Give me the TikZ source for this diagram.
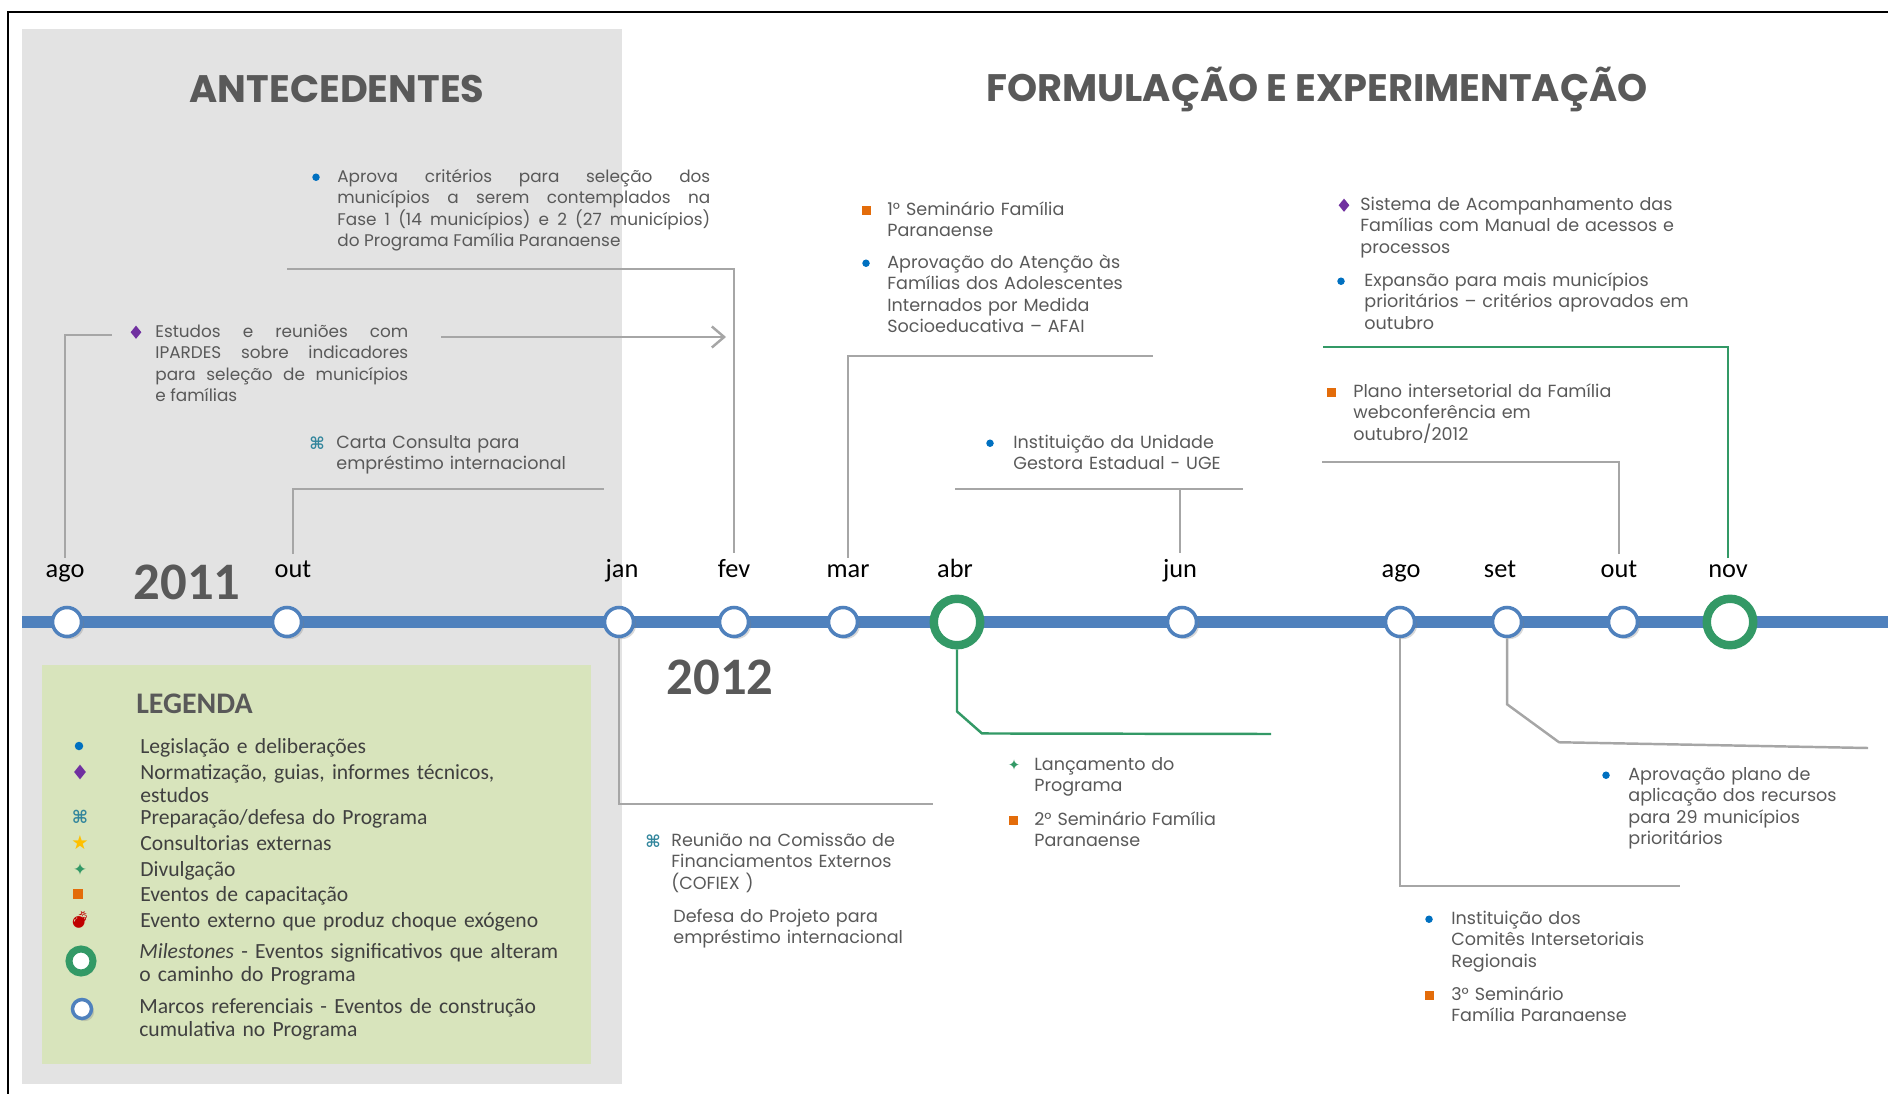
\documentclass[tikz,border=0pt]{standalone}
\usepackage{fontspec}
\setmainfont{Poppins}
\newfontfamily\calfont{Carlito}
\newfontfamily\dejavu{DejaVu Sans}
\newfontfamily\emojifont{Noto Emoji}
\usetikzlibrary{positioning,shapes.geometric,shadows,arrows.meta}

\definecolor{panelgray}{HTML}{E3E3E3}
\definecolor{leggreen}{HTML}{D8E4BC}
\definecolor{axisblue}{HTML}{4F81BD}
\definecolor{msgreen}{HTML}{339966}
\definecolor{linegray}{HTML}{A6A6A6}
\definecolor{txtgray}{HTML}{595959}
\definecolor{leggray}{HTML}{404040}
\definecolor{dotblue}{HTML}{0070C0}
\definecolor{sqorange}{HTML}{E36C0A}
\definecolor{diapurple}{HTML}{7030A0}
\definecolor{cmdteal}{HTML}{31859C}
\definecolor{staryellow}{HTML}{FFC000}
\definecolor{bombred}{HTML}{C00000}

\newcommand\evtfont{\fontsize{10}{12.1}\selectfont}
\newcommand\legfont{\calfont\fontsize{12.3}{13}\selectfont}
\newcommand\monthfont{\calfont\fontsize{15}{18}\selectfont}

\tikzset{
  conn/.style={draw=linegray,line width=1.4pt},
  conng/.style={draw=msgreen,line width=1.4pt},
  marco/.style={circle,draw=axisblue,fill=white,line width=2pt,minimum size=0.58cm,
                inner sep=0pt,drop shadow={shadow xshift=1.5pt,shadow yshift=-1.5pt,opacity=0.3}},
  milestone/.style={circle,draw=msgreen,fill=white,line width=4.8pt,minimum size=0.93cm,
                inner sep=0pt,drop shadow={shadow xshift=1.5pt,shadow yshift=-1.5pt,opacity=0.3}},
  month/.style={font=\monthfont,text=black,anchor=base},
  year/.style={font=\calfont\fontsize{30}{32}\selectfont\bfseries,text=txtgray},
  title/.style={font=\fontsize{21.8}{26}\selectfont\bfseries,text=txtgray},
  evt/.style={font=\evtfont,text=txtgray,inner sep=0pt,anchor=base west,align=left,
              text width=7cm,yshift=-0.05cm},
  leg/.style={font=\legfont,text=leggray,inner sep=0pt,anchor=base west,align=left,
              text width=9cm,yshift=-0.07cm},
  bdot/.style={circle,fill=dotblue,minimum size=0.15cm,inner sep=0pt},
  bsq/.style={rectangle,fill=sqorange,minimum size=0.18cm,inner sep=0pt},
  bdia/.style={diamond,fill=diapurple,minimum width=0.22cm,minimum height=0.27cm,inner sep=0pt},
  bcmd/.style={font=\dejavu\fontsize{9.5}{9.5}\selectfont\bfseries,text=cmdteal,inner sep=0pt},
  bspark/.style={font=\dejavu\fontsize{8.5}{8.5}\selectfont,text=msgreen,inner sep=0pt},
}

\begin{document}
\begin{tikzpicture}[x=0.02cm,y=-0.02cm,>=Latex]
  \useasboundingbox (0,0) rectangle (1888,1094);

  % panels and frame
  \fill[panelgray] (22,29) rectangle (622,1084);
  \fill[leggreen] (42,665) rectangle (591,1064);
  \draw[line width=1.2pt] (8,1094) -- (8,12) -- (1888,12);

  % titles
  \node[title] (t-ante) at (337,89) {ANTECEDENTES};
  \node[title] (t-form) at (1317,89) {FORMULAÇÃO E EXPERIMENTAÇÃO};

  % axis
  \coordinate (ax-l) at (22,622);
  \coordinate (ax-r) at (1888,622);
  \draw[axisblue,line width=6.4pt] (ax-l) -- (ax-r);

  % marks on the axis
  \foreach \x/\n in {67/ago11,287/out11,619/jan,734/fev,843/mar,1182/jun,
                     1400/ago12,1507/set,1623/out12}
    \node[marco] (c-\n) at (\x,622) {};
  \node[milestone] (c-abr) at (957,622) {};
  \node[milestone] (c-nov) at (1730,622) {};

  \foreach \x/\n/\t in {65/ago11/ago,293/out11/out,622/jan/jan,734/fev/fev,
                        848/mar/mar,955/abr/abr,1180/jun/jun,1401/ago12/ago,
                        1500/set/set,1619/out12/out,1728/nov/nov}
    \node[month] (l-\n) at (\x,577) {\t};

  \node[year] (y-2011) at (187,582) {2011};
  \node[year] (y-2012) at (720,677) {2012};

  % events above the axis
  \node[evt,align=justify,text width=7.46cm,font=\fontsize{9.6}{12.1}\selectfont] (aprova) at (337,180)
    {Aprova critérios para seleção dos\linebreak municípios a serem contemplados na\linebreak
     Fase 1 (14 municípios) e 2 (27 municípios)\linebreak do Programa Família Paranaense};
  \node[bdot] (b-aprova) at ([xshift=-0.42cm,yshift=3pt]aprova.base west) {};

  \node[evt,align=justify,text width=5.06cm,font=\fontsize{9.6}{12.1}\selectfont] (estudos) at (155,335)
    {Estudos e reuniões com\linebreak IPARDES sobre indicadores\linebreak
     para seleção de municípios\linebreak e famílias};
  \node[bdia] (b-estudos) at ([xshift=-0.38cm,yshift=3pt]estudos.base west) {};

  \node[evt] (carta) at (336,446) {Carta Consulta para\\empréstimo internacional};
  \node[bcmd] (b-carta) at ([xshift=-0.38cm,yshift=3pt]carta.base west) {⌘};

  \node[evt] (sem1) at (887,213) {1° Seminário Família\\Paranaense};
  \node[bsq] (b-sem1) at ([xshift=-0.42cm,yshift=3pt]sem1.base west) {};
  \node[evt] (afai) at (887,266)
    {Aprovação do Atenção às\\Famílias dos Adolescentes\\Internados por Medida\\Socioeducativa – AFAI};
  \node[bdot] (b-afai) at ([xshift=-0.42cm,yshift=3pt]afai.base west) {};

  \node[evt] (uge) at (1013,446) {Instituição da Unidade\\Gestora Estadual - UGE};
  \node[bdot] (b-uge) at ([xshift=-0.46cm,yshift=3pt]uge.base west) {};

  \node[evt] (sistema) at (1360,208)
    {Sistema de Acompanhamento das\\Famílias com Manual de acessos e\\processos};
  \node[bdia] (b-sistema) at ([xshift=-0.32cm,yshift=3pt]sistema.base west) {};
  \node[evt] (expansao) at (1364,284)
    {Expansão para  mais  municípios\\prioritários – critérios aprovados em\\outubro};
  \node[bdot] (b-expansao) at ([xshift=-0.46cm,yshift=3pt]expansao.base west) {};

  \node[evt] (plano) at (1353,395)
    {Plano intersetorial  da Família\\webconferência  em\\outubro/2012};
  \node[bsq] (b-plano) at ([xshift=-0.44cm,yshift=3pt]plano.base west) {};

  % events below the axis
  \node[evt] (cofiex) at (671,844)
    {Reunião na Comissão de\\Financiamentos Externos\\(COFIEX )};
  \node[bcmd] (b-cofiex) at ([xshift=-0.36cm,yshift=3pt]cofiex.base west) {⌘};
  \node[evt] (defesa) at (673,920) {Defesa do Projeto para\\empréstimo internacional};

  \node[evt] (lanc) at (1034,768) {Lançamento do\\Programa};
  \node[bspark] (b-lanc) at ([xshift=-0.4cm,yshift=3pt]lanc.base west) {✦};
  \node[evt] (sem2) at (1034,823) {2° Seminário Família\\Paranaense};
  \node[bsq] (b-sem2) at ([xshift=-0.42cm,yshift=3pt]sem2.base west) {};

  \node[evt] (aplic) at (1628,778)
    {Aprovação plano de\\aplicação dos recursos\\para 29 municípios\\prioritários};
  \node[bdot] (b-aplic) at ([xshift=-0.44cm,yshift=3pt]aplic.base west) {};

  \node[evt] (comites) at (1451,922)
    {Instituição dos\\Comitês Intersetoriais\\Regionais};
  \node[bdot] (b-comites) at ([xshift=-0.44cm,yshift=3pt]comites.base west) {};
  \node[evt] (sem3) at (1451,998) {3°  Seminário\\Família Paranaense};
  \node[bsq] (b-sem3) at ([xshift=-0.44cm,yshift=3pt]sem3.base west) {};

  % connectors above
  \coordinate (k-estudos) at (112,335);
  \coordinate (k-carta) at (604,489);
  \coordinate (k-aprova) at (287,269);
  \coordinate (k-afai) at (1153,356);
  \coordinate (k-uge-l) at (955,489);
  \coordinate (k-uge-r) at (1243,489);
  \coordinate (k-plano) at (1322,462);
  \coordinate (k-sistema) at (1323,347);
  \coordinate (e-from) at (441,337);
  \coordinate (e-to) at (726,337);
  \draw[conn] (l-ago11.north) |- (k-estudos);
  \draw[conn] (l-out11.north) |- (k-carta);
  \draw[conn] (l-fev.north) |- (k-aprova);
  \draw[conn] (l-mar.north) |- (k-afai);
  \draw[conn] (l-jun.north) -- (l-jun.north |- k-uge-l);
  \draw[conn] (k-uge-l) -- (k-uge-r);
  \draw[conn] (l-out12.north) |- (k-plano);
  \draw[conng] (l-nov.north) |- (k-sistema);
  \draw[conn,-{Straight Barb[length=7pt,width=12pt]}] (e-from) -- (e-to);

  % connectors below
  \coordinate (k-cofiex) at (933,804);
  \coordinate (k-lanc) at (1271,734);
  \coordinate (k-comites) at (1680,886);
  \coordinate (k-aplic) at (1868,748);
  \draw[conn] (c-jan.south) |- (k-cofiex);
  \draw[conng] (c-abr.south) -- ++(0,62) -- ++(25,22) -- (k-lanc);
  \draw[conn] (c-ago12.south) |- (k-comites);
  \draw[conn] (c-set.south) -- ++(0,66) -- ++(52,38) -- (k-aplic);

  % legend
  \node[font=\calfont\fontsize{17}{19}\selectfont\bfseries,text=txtgray,anchor=base west,inner sep=0pt]
    (legenda) at (136,713) {LEGENDA};
  \node[leg] (leg1) at (140,750) {Legislação e deliberações};
  \node[leg] (leg2) at (140,776) {Normatização,  guias, informes  técnicos,\\estudos};
  \node[leg] (leg3) at (140,821) {Preparação/defesa  do Programa};
  \node[leg] (leg4) at (140,847) {Consultorias externas};
  \node[leg] (leg5) at (140,873) {Divulgação};
  \node[leg] (leg6) at (140,898) {Eventos de capacitação};
  \node[leg] (leg7) at (140,924) {Evento externo que produz choque exógeno};
  \node[leg] (leg8) at (139,955)
    {\textit{Milestones} - Eventos significativos que alteram\\o caminho do Programa};
  \node[leg] (leg9) at (139,1010)
    {Marcos referenciais - Eventos de construção\\cumulativa no Programa};

  \node[bdot,minimum size=0.17cm] (s-leg1) at (79,746) {};
  \node[bdia,minimum width=0.24cm,minimum height=0.3cm] (s-leg2) at (80,772) {};
  \node[bcmd,font=\dejavu\fontsize{10}{10}\selectfont\bfseries] (s-leg3) at (80,817) {⌘};
  \node[text=staryellow,font=\dejavu\fontsize{11}{11}\selectfont,inner sep=0pt] (s-leg4) at (80,843) {★};
  \node[bspark,font=\dejavu\fontsize{9.5}{9.5}\selectfont] (s-leg5) at (80,869) {✦};
  \node[bsq,minimum size=0.2cm] (s-leg6) at (78,894) {};
  \node[text=bombred,font=\emojifont\fontsize{9.5}{9.5}\selectfont,inner sep=0pt] (s-leg7) at (80,920) {💣};
  \node[circle,draw=msgreen,fill=white,line width=4pt,minimum size=0.48cm,inner sep=0pt,
        drop shadow={shadow xshift=1.5pt,shadow yshift=-1.5pt,opacity=0.3}] (s-leg8) at (81,961) {};
  \node[circle,draw=axisblue,fill=white,line width=2pt,minimum size=0.38cm,inner sep=0pt,
        drop shadow={shadow xshift=1.5pt,shadow yshift=-1.5pt,opacity=0.3}] (s-leg9) at (82,1009) {};

\end{tikzpicture}
\end{document}
